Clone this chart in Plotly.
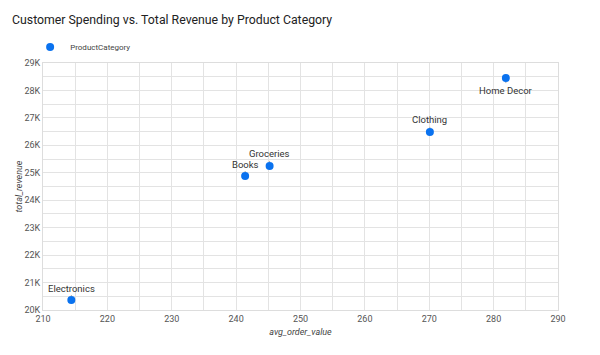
import plotly.graph_objects as go

categories = ["Electronics", "Books", "Groceries", "Clothing", "Home Decor"]
avg_order_value = [214.4, 241.4, 245.2, 270.1, 281.9]
total_revenue = [20360, 24880, 25250, 26490, 28450]
label_pos = ["above", "above", "above", "above", "below"]

y_tick_vals = [20000, 21000, 22000, 23000, 24000, 25000, 26000, 27000, 28000, 29000]
y_tick_text = ["20K", "21K", "22K", "23K", "24K", "25K", "26K", "27K", "28K", "29K"]
x_tick_vals = [210, 220, 230, 240, 250, 260, 270, 280, 290]

blue = "#0a72ef"
font_family = "Roboto, 'Open Sans', sans-serif"

fig = go.Figure()
fig.add_trace(go.Scatter(
    x=avg_order_value, y=total_revenue, mode="markers",
    name="ProductCategory",
    marker=dict(color=blue, size=8),
    hovertext=categories,
))

for cat, xv, yv, pos in zip(categories, avg_order_value, total_revenue, label_pos):
    fig.add_annotation(
        x=xv, y=yv, text=cat, showarrow=True, arrowhead=0, arrowwidth=1,
        arrowcolor="#9e9e9e", ax=0, ay=(-12 if pos == "above" else 12),
        standoff=4, font=dict(size=9.5, color="#333333", family=font_family),
        xref="x", yref="y",
    )

fig.update_layout(
    width=600, height=355,
    margin=dict(l=35, r=50, t=55, b=53),
    paper_bgcolor="white", plot_bgcolor="white",
    font=dict(family=font_family, color="#555555", size=9),
    title=dict(text="Customer Spending vs. Total Revenue by Product Category",
               x=4 / 600, xref="container", xanchor="left",
               y=1 - 12 / 355, yref="container", yanchor="middle",
               font=dict(size=12.3, color="#222222", family=font_family)),
    showlegend=True,
    legend=dict(x=-0.025, y=1.065, xanchor="left", yanchor="middle", orientation="h",
                font=dict(size=8, color="#444444"), itemwidth=30,
                bgcolor="rgba(0,0,0,0)"),
    xaxis=dict(range=[210, 290], tickvals=x_tick_vals, automargin=False,
               showgrid=True, gridcolor="#e3e3e3", gridwidth=1,
               minor=dict(dtick=5, tick0=210, showgrid=True, gridcolor="#e3e3e3"),
               zeroline=False, showline=True, linecolor="#dddddd", mirror=True,
               ticks="", tickfont=dict(size=9, color="#555555"),
               title=dict(text="avg_order_value", standoff=5,
                          font=dict(size=9, color="#444444", style="italic"))),
    yaxis=dict(range=[20000, 29000], tickvals=y_tick_vals, ticktext=y_tick_text,
               automargin=False,
               showgrid=True, gridcolor="#e3e3e3", gridwidth=1,
               minor=dict(dtick=500, tick0=20000, showgrid=True, gridcolor="#e3e3e3"),
               zeroline=False, showline=True, linecolor="#dddddd", mirror=True,
               ticks="", tickfont=dict(size=9, color="#555555"),
               title=dict(text="total_revenue", standoff=0,
                          font=dict(size=9, color="#444444", style="italic"))),
)
fig.write_html("out.html")
